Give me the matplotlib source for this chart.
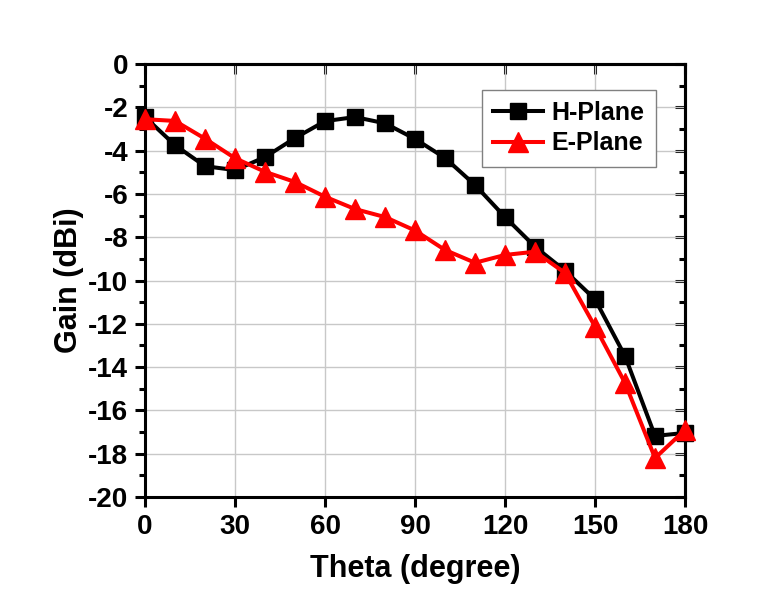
import matplotlib.pyplot as plt
from matplotlib.ticker import MultipleLocator

theta = [0, 10, 20, 30, 40, 50, 60, 70, 80, 90, 100, 110, 120, 130, 140, 150, 160, 170, 180]
h_plane = [-2.45, -3.75, -4.72, -4.9, -4.3, -3.42, -2.64, -2.45, -2.74, -3.46, -4.34, -5.59,
           -7.07, -8.44, -9.55, -10.87, -13.49, -17.18, -17.04]
e_plane = [-2.55, -2.63, -3.45, -4.35, -4.98, -5.45, -6.13, -6.7, -7.07, -7.69, -8.59, -9.18,
           -8.82, -8.67, -9.65, -12.13, -14.73, -18.2, -16.9]

plt.rcParams['font.family'] = ['Liberation Sans', 'DejaVu Sans']
plt.rcParams['font.weight'] = 'bold'
plt.rcParams['axes.unicode_minus'] = False

fig = plt.figure(figsize=(7.78, 5.97), dpi=100)
ax = fig.add_axes([0.1864, 0.1675, 0.6941, 0.7253])

ax.plot(theta, h_plane, color='black', lw=2.9, marker='s', ms=12, label='H-Plane', clip_on=False, zorder=3)
ax.plot(theta, e_plane, color='red', lw=2.9, marker='^', ms=14, label='E-Plane', clip_on=False, zorder=4)

ax.set_xlim(0, 180)
ax.set_ylim(-20, 0)
ax.xaxis.set_major_locator(MultipleLocator(30))
ax.yaxis.set_major_locator(MultipleLocator(2))
ax.yaxis.set_minor_locator(MultipleLocator(1))
ax.grid(True, which='major', color='#c8c8c8', lw=1)
ax.set_axisbelow(True)

for s in ax.spines.values():
    s.set_linewidth(2.2)

ax.tick_params(axis='both', which='major', labelsize=20, width=2.2, length=7, direction='out', pad=5)
ax.tick_params(axis='y', which='minor', width=2.2, length=4, direction='out')

# inward ticks on the top and right edges
top = ax.secondary_xaxis('top')
top.xaxis.set_major_locator(MultipleLocator(30))
top.tick_params(direction='in', width=2.2, length=7, labeltop=False)
right = ax.secondary_yaxis('right')
right.yaxis.set_major_locator(MultipleLocator(2))
right.yaxis.set_minor_locator(MultipleLocator(1))
right.tick_params(which='major', direction='in', width=2.2, length=7, labelright=False)
right.tick_params(which='minor', direction='in', width=2.2, length=4)
for sa in (top, right):
    for s in sa.spines.values():
        s.set_linewidth(2.2)

ax.set_xlabel('Theta (degree)', fontsize=22, fontweight='bold', labelpad=10)
ax.set_ylabel('Gain (dBi)', fontsize=22, fontweight='bold', labelpad=3)

leg = ax.legend(loc='upper right', bbox_to_anchor=(0.946, 0.94), borderaxespad=0, fontsize=18,
                frameon=True, fancybox=False, edgecolor='#808080', handlelength=2.0, borderpad=0.45,
                labelspacing=0.25, handletextpad=0.35, framealpha=1)
leg.get_frame().set_linewidth(1)

fig.savefig('out.png', dpi=100)
